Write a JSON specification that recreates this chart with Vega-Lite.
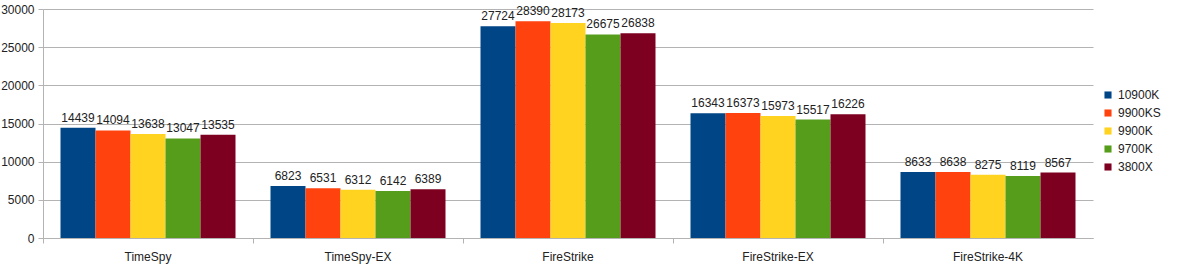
{
  "$schema": "https://vega.github.io/schema/vega-lite/v6.json",
  "autosize": "none",
  "width": 1050,
  "height": 229,
  "padding": {"left": 43, "top": 9, "right": 107, "bottom": 27},
  "background": "white",
  "config": {"view": {"stroke": null}, "font": "Liberation Sans"},
  "data": {"values": [
    {"test": "TimeSpy", "cpu": "10900K", "score": 14439},
    {"test": "TimeSpy", "cpu": "9900KS", "score": 14094},
    {"test": "TimeSpy", "cpu": "9900K", "score": 13638},
    {"test": "TimeSpy", "cpu": "9700K", "score": 13047},
    {"test": "TimeSpy", "cpu": "3800X", "score": 13535},
    {"test": "TimeSpy-EX", "cpu": "10900K", "score": 6823},
    {"test": "TimeSpy-EX", "cpu": "9900KS", "score": 6531},
    {"test": "TimeSpy-EX", "cpu": "9900K", "score": 6312},
    {"test": "TimeSpy-EX", "cpu": "9700K", "score": 6142},
    {"test": "TimeSpy-EX", "cpu": "3800X", "score": 6389},
    {"test": "FireStrike", "cpu": "10900K", "score": 27724},
    {"test": "FireStrike", "cpu": "9900KS", "score": 28390},
    {"test": "FireStrike", "cpu": "9900K", "score": 28173},
    {"test": "FireStrike", "cpu": "9700K", "score": 26675},
    {"test": "FireStrike", "cpu": "3800X", "score": 26838},
    {"test": "FireStrike-EX", "cpu": "10900K", "score": 16343},
    {"test": "FireStrike-EX", "cpu": "9900KS", "score": 16373},
    {"test": "FireStrike-EX", "cpu": "9900K", "score": 15973},
    {"test": "FireStrike-EX", "cpu": "9700K", "score": 15517},
    {"test": "FireStrike-EX", "cpu": "3800X", "score": 16226},
    {"test": "FireStrike-4K", "cpu": "10900K", "score": 8633},
    {"test": "FireStrike-4K", "cpu": "9900KS", "score": 8638},
    {"test": "FireStrike-4K", "cpu": "9900K", "score": 8275},
    {"test": "FireStrike-4K", "cpu": "9700K", "score": 8119},
    {"test": "FireStrike-4K", "cpu": "3800X", "score": 8567}
  ]},
  "encoding": {
    "x": {
      "field": "test", "type": "nominal", "sort": null, "title": null,
      "scale": {"paddingInner": 0, "paddingOuter": 0},
      "axis": {"bandPosition": 0, "labelAngle": 0, "labelFontSize": 12, "labelColor": "#222", "labelPadding": 8, "domainColor": "#b3b3b3", "tickColor": "#b3b3b3", "tickSize": 5, "labelFont": "Liberation Sans"}
    },
    "xOffset": {
      "field": "cpu", "type": "nominal", "sort": ["10900K", "9900KS", "9900K", "9700K", "3800X"],
      "scale": {"paddingInner": 0, "paddingOuter": 0.5}
    },
    "y": {
      "field": "score", "type": "quantitative", "title": null,
      "scale": {"domain": [0, 30000], "nice": false},
      "axis": {"values": [0, 5000, 10000, 15000, 20000, 25000, 30000], "format": "d", "labelFontSize": 12, "labelColor": "#222", "labelPadding": 4, "gridColor": "#b3b3b3", "domainColor": "#b3b3b3", "tickColor": "#b3b3b3", "tickSize": 5, "labelFont": "Liberation Sans"}
    }
  },
  "layer": [
    {
      "mark": {"type": "bar"},
      "encoding": {
        "color": {
          "field": "cpu", "type": "nominal", "sort": ["10900K", "9900KS", "9900K", "9700K", "3800X"],
          "scale": {"domain": ["10900K", "9900KS", "9900K", "9700K", "3800X"], "range": ["#004586", "#ff420e", "#ffd320", "#579d1c", "#7e0021"]},
          "legend": {"title": null, "orient": "none", "legendX": 1059, "legendY": 80, "symbolType": "square", "symbolSize": 50, "symbolStrokeWidth": 0, "labelFontSize": 12, "labelColor": "#222", "rowPadding": 6, "labelOffset": 4, "labelFont": "Liberation Sans"}
        }
      }
    },
    {
      "mark": {"type": "text", "baseline": "bottom", "dy": -3, "fontSize": 12, "color": "#222", "font": "Liberation Sans"},
      "encoding": {"text": {"field": "score", "type": "quantitative", "format": "d"}}
    }
  ]
}
